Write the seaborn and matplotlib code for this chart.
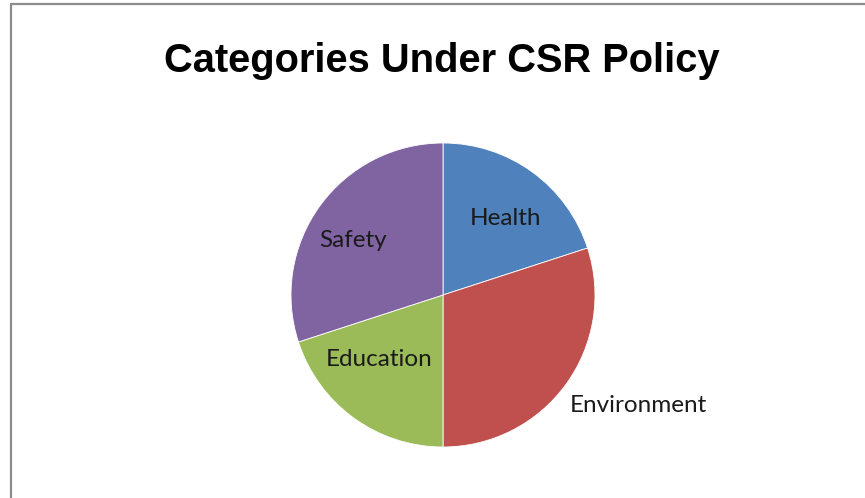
import numpy as np
import matplotlib
matplotlib.use("Agg")
import matplotlib.pyplot as plt
import seaborn as sns

categories = ["Health", "Environment", "Education", "Safety"]
values = [20, 30, 20, 30]
colors = ["#4F81BD", "#C0504D", "#9BBB59", "#8064A2"]
title = "Categories Under CSR Policy"

# label anchor points (in pie radius units, baseline-anchored)
label_xy = [(0.411, 0.461), (1.286, -0.770), (-0.421, -0.467), (-0.592, 0.316)]

sns.set_theme(style="white")
plt.rcParams["font.family"] = ["Lato", "DejaVu Sans"]

W, H = 865, 498
fig = plt.figure(figsize=(W / 100, H / 100), dpi=100)
fig.patch.set_facecolor("white")

# border lines (left and top)
fig.add_artist(plt.Line2D([10.5 / W, 10.5 / W], [0, 1 - 4 / H], color="#8c8c8c", lw=1.6))
fig.add_artist(plt.Line2D([10.5 / W, 1], [1 - 4 / H, 1 - 4 / H], color="#8c8c8c", lw=1.6))

cx, cy, r = 443, 295, 152
ax = fig.add_axes([(cx - r) / W, (H - cy - r) / H, 2 * r / W, 2 * r / H])
wedges, _ = ax.pie(values, colors=colors, startangle=90, counterclock=False,
                   radius=1, wedgeprops=dict(edgecolor="white", linewidth=0.6))
ax.set_xlim(-1, 1)
ax.set_ylim(-1, 1)
ax.set_aspect("equal")
ax.axis("off")

for lab, (lx, ly) in zip(categories, label_xy):
    ax.text(lx, ly, lab, ha="center", va="baseline",
            fontsize=17.5, color="#1a1a1a", clip_on=False)

fig.text(441.5 / W, 1 - 72 / H, title, ha="center", va="baseline",
         fontsize=28.7, fontweight="bold", color="black",
         family=["Liberation Sans", "DejaVu Sans"])

fig.savefig("out.png", dpi=100, facecolor="white")
